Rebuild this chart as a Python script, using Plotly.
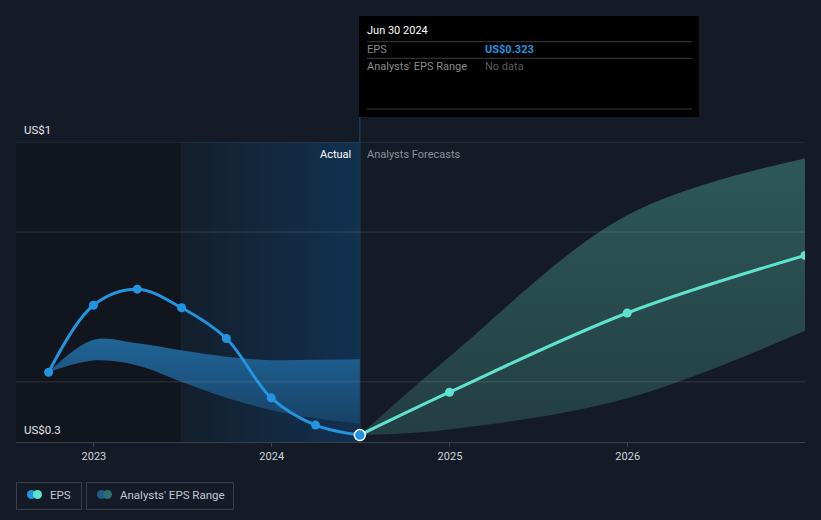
import plotly.graph_objects as go

# ---------------- data ----------------
hist_dates = ["2022-09-30", "2022-12-31", "2023-03-31", "2023-06-30",
              "2023-09-30", "2023-12-31", "2024-03-31", "2024-06-30"]
hist_eps = [0.468, 0.623, 0.660, 0.617, 0.546, 0.409, 0.346, 0.323]
past_range_high = [0.468, 0.543, 0.535, 0.519, 0.504, 0.496, 0.497, 0.498]
past_range_low = [0.468, 0.495, 0.484, 0.446, 0.409, 0.381, 0.362, 0.350]

fc_dates = ["2024-06-30", "2024-12-31", "2025-12-31", "2026-12-31"]
fc_eps = [0.323, 0.422, 0.605, 0.738]
fc_high = [0.323, 0.504, 0.831, 0.962]
fc_low = [0.323, 0.336, 0.408, 0.564]

year_ticks = ["2023-01-01", "2024-01-01", "2025-01-01", "2026-01-01"]
year_labels = ["2023", "2024", "2025", "2026"]
grid_values = [1.0, 0.792, 0.446]
y_labels = ["US$1", "US$0.3"]
x_range = ["2022-07-25", "2026-12-31"]
y_range = [0.307, 1.0]
past_year_start = "2023-06-30"
today = "2024-06-30"

# ---------------- styling helpers ----------------
W, H = 821, 520
ML, MR, MT, MB = 16, 16, 142, 78
PW, PH = W - ML - MR, H - MT - MB


def PX(px):
    return (px - ML) / PW


def PY(py):
    return (H - MB - py) / PH


FONT = "Roboto, 'Open Sans', sans-serif"
BG = "#151b26"
BLUE = "#2394df"
AQUA = "#5fe3cf"

fig = go.Figure()

# past-year highlighted region (gradient)
fig.add_trace(go.Scatter(
    x=[past_year_start, today, today, past_year_start, past_year_start],
    y=[y_range[0], y_range[0], y_range[1], y_range[1], y_range[0]],
    mode="lines", line=dict(width=0), fill="toself",
    fillgradient=dict(type="horizontal",
                      colorscale=[[0, "#131f2d"], [1, "#123150"]]),
    hoverinfo="skip", showlegend=False))

# past analyst range band
fig.add_trace(go.Scatter(x=hist_dates, y=past_range_low, mode="lines",
                         line=dict(width=0, shape="spline", smoothing=1),
                         hoverinfo="skip", showlegend=False))
fig.add_trace(go.Scatter(x=hist_dates, y=past_range_high, mode="lines",
                         line=dict(width=0, shape="spline", smoothing=1),
                         fill="tonexty",
                         fillgradient=dict(type="vertical",
                                           start=min(past_range_low), stop=max(past_range_high),
                                           colorscale=[[0, "rgb(24,66,104)"],
                                                       [1, "rgb(32,100,150)"]]),
                         hoverinfo="skip", showlegend=False))

# forecast range band
fig.add_trace(go.Scatter(x=fc_dates, y=fc_low, mode="lines",
                         line=dict(width=0, shape="spline", smoothing=1),
                         hoverinfo="skip", showlegend=False))
fig.add_trace(go.Scatter(x=fc_dates, y=fc_high, mode="lines",
                         line=dict(width=0, shape="spline", smoothing=1),
                         fill="tonexty",
                         fillgradient=dict(type="vertical",
                                           start=min(fc_low), stop=max(fc_high),
                                           colorscale=[[0, "rgb(35,62,68)"],
                                                       [1, "rgb(46,88,88)"]]),
                         hoverinfo="skip", showlegend=False))

# EPS lines
fig.add_trace(go.Scatter(x=fc_dates, y=fc_eps, mode="lines",
                         line=dict(color=AQUA, width=3, shape="spline", smoothing=1),
                         hoverinfo="skip", showlegend=False))
fig.add_trace(go.Scatter(x=fc_dates[1:], y=fc_eps[1:], mode="markers",
                         marker=dict(size=9, color=AQUA, opacity=1),
                         hoverinfo="skip", showlegend=False))
fig.add_trace(go.Scatter(x=hist_dates, y=hist_eps, mode="lines+markers",
                         line=dict(color=BLUE, width=3, shape="spline", smoothing=1),
                         marker=dict(size=9, color=BLUE),
                         hoverinfo="skip", showlegend=False))
fig.add_trace(go.Scatter(x=[hist_dates[-1]], y=[hist_eps[-1]], mode="markers",
                         marker=dict(size=11, color=BLUE,
                                     line=dict(color="white", width=1.5)),
                         hoverinfo="skip", showlegend=False))

shapes = []
# dark region before the past year
shapes.append(dict(type="rect", xref="x", yref="paper", x0=x_range[0], x1=past_year_start,
                   y0=0, y1=1, fillcolor="#11151d", line=dict(width=0), layer="below"))
shapes.append(dict(type="line", xref="x", yref="paper", x0=past_year_start, x1=past_year_start,
                   y0=0, y1=1, line=dict(color="#1c2938", width=1), layer="below"))
# today line
shapes.append(dict(type="line", xref="x", yref="paper", x0=today, x1=today,
                   y0=0, y1=PY(117), line=dict(color="#1f4262", width=1.2), layer="below"))
# gridlines
for gv in grid_values:
    shapes.append(dict(type="line", xref="paper", yref="y", x0=0, x1=1, y0=gv, y1=gv,
                       line=dict(color="rgba(255,255,255,0.13)", width=1), layer="above"))

# tooltip box
shapes.append(dict(type="rect", xref="paper", yref="paper", x0=PX(359), x1=PX(699),
                   y0=PY(117), y1=PY(16), fillcolor="#000000", line=dict(width=0)))
for ly in [41.7, 58.3, 109]:
    shapes.append(dict(type="line", xref="paper", yref="paper", x0=PX(367), x1=PX(692),
                       y0=PY(ly), y1=PY(ly), line=dict(color="#3d3d3d", width=1)))

# legend boxes
for bx0, bx1 in [(16.5, 81.5), (86.5, 233.5)]:
    shapes.append(dict(type="rect", xref="paper", yref="paper", x0=PX(bx0), x1=PX(bx1),
                       y0=PY(509.5), y1=PY(482.5), fillcolor="rgba(0,0,0,0)",
                       line=dict(color="#3b414c", width=1)))
for cx, col in [(31.5, BLUE), (37.5, AQUA), (101.5, "#1f5a88"), (107.5, "#2e6e6c")]:
    r = 4.5
    shapes.append(dict(type="circle", xref="paper", yref="paper",
                       x0=PX(cx - r), x1=PX(cx + r), y0=PY(494.5 + r), y1=PY(494.5 - r),
                       fillcolor=col, line=dict(width=0)))

annotations = []
PAD = 2  # annotation box padding compensation


def txt(text, px, py, color, size=11, xanchor="left", bold=False):
    if bold:
        text = "<b>" + text + "</b>"
    shift = -PAD if xanchor == "left" else PAD
    annotations.append(dict(text=text, xref="paper", yref="paper", x=PX(px + shift), y=PY(py),
                            xanchor=xanchor, yanchor="middle", showarrow=False,
                            font=dict(family=FONT, size=size, color=color)))


txt(y_labels[0], 24, 130, "#e6e8eb", size=11.5)
txt(y_labels[1], 24, 430, "#e6e8eb", size=11.5)
txt("Actual", 351, 154, "#ffffff", xanchor="right")
txt("Analysts Forecasts", 367, 154, "#8c9199")

txt("Jun 30 2024", 367, 31, "#ffffff")
txt("EPS", 367, 49.5, "#8a8a8a")
txt(f"US${hist_eps[-1]:.3f}", 485, 49.5, BLUE, bold=True)
txt("Analysts' EPS Range", 367, 66.5, "#8a8a8a")
txt("No data", 485, 66.5, "#5c5c5c")

txt("EPS", 50, 495, "#c4c8ce", size=11.5)
txt("Analysts' EPS Range", 120, 495, "#c4c8ce", size=11.5)

fig.update_layout(
    width=W, height=H,
    margin=dict(l=ML, r=MR, t=MT, b=MB),
    paper_bgcolor=BG, plot_bgcolor=BG,
    showlegend=False, hovermode=False,
    shapes=shapes, annotations=annotations,
    font=dict(family=FONT),
    xaxis=dict(type="date", range=x_range, tickvals=year_ticks, ticktext=year_labels,
               showgrid=False, zeroline=False, showline=True, linecolor="#3a404b",
               linewidth=1, ticks="outside", ticklen=4, tickcolor="#3a404b",
               tickfont=dict(family=FONT, size=11, color="#d0d4da"), fixedrange=True),
    yaxis=dict(range=y_range, showgrid=False, zeroline=False, showticklabels=False,
               showline=False, fixedrange=True),
)

fig.write_html(
    "out.html",
    config={"displayModeBar": False},
    post_script="document.body.style.margin='0';document.body.style.background='%s';" % BG,
)
